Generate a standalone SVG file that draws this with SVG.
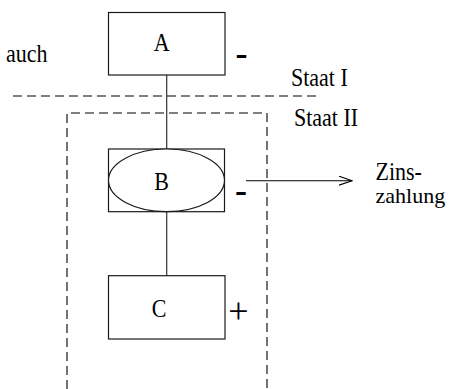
<svg xmlns="http://www.w3.org/2000/svg" width="449" height="389" viewBox="0 0 449 389">
<defs>
<style>
.box{fill:#fff;stroke:#1a1a1a;stroke-width:1.2}
.line{fill:none;stroke:#333;stroke-width:1.2}
.dash{fill:none;stroke:#000;stroke-width:1.1;stroke-dasharray:9 5}
</style>
<marker id="open" viewBox="0 0 14 10" refX="13" refY="5" markerWidth="14" markerHeight="10" markerUnits="userSpaceOnUse" orient="auto">
<path d="M0,0.5 L13,5 L0,9.5" fill="none" stroke="#000" stroke-width="1.1"/>
</marker>
</defs>
<rect width="449" height="389" fill="#fff"/>
<g id="boundaries">
<path class="dash" d="M13,96 H320"/>
<path class="dash" d="M67,389 V113 H267 V389"/>
</g>
<g id="connectors">
<path class="line" d="M166.7,75 V149"/>
<path class="line" d="M166.7,211.7 V275.7"/>
<path d="M246,180.7 H352" fill="none" stroke="#000" stroke-width="1.1" marker-end="url(#open)"/>
</g>
<g id="node-A">
<rect class="box" x="108.5" y="12.5" width="116.5" height="62.5"/>
<text font-family="Liberation Serif, serif" font-size="22" text-anchor="middle" transform="translate(161.7 51) scale(1 1.15)">A</text>
<text font-family="Liberation Serif, serif" font-weight="bold" font-size="36" text-anchor="middle" x="241.5" y="65">-</text>
</g>
<g id="node-B">
<rect class="box" x="108.5" y="149" width="116" height="62.7"/>
<ellipse cx="166.5" cy="180.3" rx="58" ry="31.3" fill="#fff" stroke="#1a1a1a" stroke-width="1.2"/>
<text font-family="Liberation Serif, serif" font-size="22" text-anchor="middle" transform="translate(161.5 190) scale(1 1.15)">B</text>
<text font-family="Liberation Serif, serif" font-weight="bold" font-size="36" text-anchor="middle" x="241" y="202">-</text>
</g>
<g id="node-C">
<rect class="box" x="108.5" y="275.7" width="116.5" height="63.3"/>
<text font-family="Liberation Serif, serif" font-size="22" text-anchor="middle" transform="translate(159 316.7) scale(1 1.15)">C</text>
<text font-family="Liberation Serif, serif" font-size="36" text-anchor="middle" x="238.3" y="323">+</text>
</g>
<g id="labels">
<text font-family="Liberation Serif, serif" font-size="22" transform="translate(6 62.3) scale(1 1.15)">auch</text>
<text font-family="Liberation Serif, serif" font-size="22" transform="translate(291 86) scale(1 1.15)">Staat I</text>
<text font-family="Liberation Serif, serif" font-size="22" transform="translate(294 126) scale(1 1.15)">Staat II</text>
<text font-family="Liberation Serif, serif" font-size="22" transform="translate(375.5 180) scale(1 1.1)">Zins-</text>
<text font-family="Liberation Serif, serif" font-size="22" x="375.5" y="203.3">zahlung</text>
</g>
</svg>
